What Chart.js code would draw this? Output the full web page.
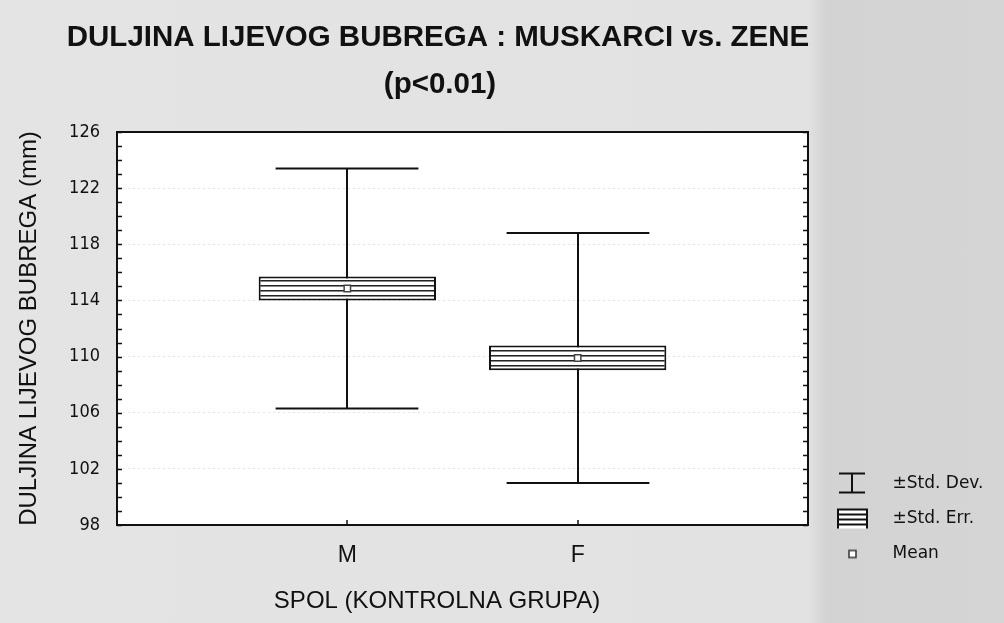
<!DOCTYPE html>
<html>
<head>
<meta charset="utf-8">
<script src="https://cdn.jsdelivr.net/npm/chart.js@4.4.1/dist/chart.umd.min.js"></script>
<style>
  html, body { margin: 0; padding: 0; }
  body {
    width: 1004px; height: 623px; overflow: hidden;
    background: linear-gradient(90deg, #e4e4e4 0px, #e2e2e2 808px, #d3d3d3 826px, #d5d5d5 1004px);
  }
  #wrap { position: relative; width: 1004px; height: 623px; }
</style>
</head>
<body>
<div id="wrap"><canvas id="chart"></canvas></div>
<script>
// podaci ocitani sa slike
const groups = ["M", "F"];
const means = [114.85, 109.9];
const stdDev = [8.55, 8.9];
const stdErr = [0.86, 0.88];
const yTicks = [98, 102, 106, 110, 114, 118, 122, 126];

const titleText = "DULJINA LIJEVOG BUBREGA : MUSKARCI vs. ZENE";
const subtitleText = "(p<0.01)";
const yTitle = "DULJINA LIJEVOG BUBREGA (mm)";
const xTitle = "SPOL (KONTROLNA GRUPA)";
const legendLabels = ["±Std. Dev.", "±Std. Err.", "Mean"];

const INK = "#111";
const SANS = "'Liberation Sans', Arial, sans-serif";
const NARROW = "'Liberation Sans Narrow', 'DejaVu Sans Condensed', 'Liberation Sans', sans-serif";
const LEGEND_FONT = { family: "'DejaVu Sans', sans-serif", size: 17 };

// prazne kategorije lijevo i desno da M i F budu na 1/3 i 2/3
const labels = ["", ...groups, ""];
const pad = arr => [null, ...arr, null];

// horizontalne pruge za +-SE kutiju
function stripePattern() {
  const c = document.createElement("canvas");
  c.width = 4; c.height = 5;
  const g = c.getContext("2d");
  g.fillStyle = "#fff"; g.fillRect(0, 0, 4, 5);
  g.fillStyle = "#222"; g.fillRect(0, 0, 4, 1);
  g.fillStyle = "#888"; g.fillRect(0, 1, 4, 1);
  return g.createPattern(c, "repeat");
}

// ikone za legendu
function legendIcon(kind) {
  const c = document.createElement("canvas");
  c.width = 40; c.height = 26;
  const g = c.getContext("2d");
  const cx = 17;
  g.strokeStyle = INK; g.fillStyle = INK;
  if (kind === "sd") {
    g.lineWidth = 2;
    g.beginPath();
    g.moveTo(cx - 13, 3); g.lineTo(cx + 13, 3);
    g.moveTo(cx, 3); g.lineTo(cx, 22);
    g.moveTo(cx - 13, 22); g.lineTo(cx + 13, 22);
    g.stroke();
  } else if (kind === "se") {
    g.fillStyle = "#fff"; g.fillRect(cx - 15, 3, 31, 20);
    g.fillStyle = INK;
    for (let yy = 3; yy <= 21; yy += 5) g.fillRect(cx - 15, yy, 31, 2);
    g.fillRect(cx - 15, 3, 2, 20); g.fillRect(cx + 14, 3, 2, 20);
  } else {
    g.fillStyle = "#fff"; g.fillRect(cx - 3, 10, 7, 7);
    g.lineWidth = 1.5; g.strokeStyle = "#333"; g.strokeRect(cx - 3, 10, 7, 7);
  }
  return c;
}
const icons = [legendIcon("sd"), legendIcon("se"), legendIcon("mean")];

// sirina legende -> desni padding da plot zavrsi na ~808px
const mctx = document.createElement("canvas").getContext("2d");
mctx.font = `${LEGEND_FONT.size}px ${LEGEND_FONT.family}`;
const legendTextW = Math.max(...legendLabels.map(t => mctx.measureText(t).width));
const legendPad = 18, legendBox = 58;
const rightPad = Math.max(0, 186 - (legendPad + legendBox + LEGEND_FONT.size / 2 + legendTextW));

const plotBackground = {
  id: "plotBackground",
  beforeDraw(chart) {
    const { ctx, chartArea: a } = chart;
    ctx.save();
    ctx.fillStyle = "#fff";
    ctx.fillRect(a.left, a.top, a.right - a.left, a.bottom - a.top);
    ctx.restore();
  },
};

// +-SD brkovi ispod kutija
const whiskers = {
  id: "whiskers",
  beforeDatasetsDraw(chart) {
    const { ctx, scales: { x, y } } = chart;
    const step = x.getPixelForValue(1) - x.getPixelForValue(0);
    const half = step * 0.31;
    ctx.save();
    ctx.strokeStyle = INK;
    ctx.lineWidth = 2;
    groups.forEach((g, i) => {
      const cx = Math.round(x.getPixelForValue(i + 1));
      const top = y.getPixelForValue(means[i] + stdDev[i]);
      const bot = y.getPixelForValue(means[i] - stdDev[i]);
      ctx.beginPath();
      ctx.moveTo(cx, top); ctx.lineTo(cx, bot);
      ctx.moveTo(cx - half, top); ctx.lineTo(cx + half, top);
      ctx.moveTo(cx - half, bot); ctx.lineTo(cx + half, bot);
      ctx.stroke();
    });
    ctx.restore();
  },
};

// okvir, sitne crtice i tekstovi naslova
const frameAndText = {
  id: "frameAndText",
  afterDraw(chart) {
    const { ctx, chartArea: a, scales: { x, y } } = chart;
    ctx.save();
    ctx.strokeStyle = INK;
    ctx.lineWidth = 2;
    ctx.strokeRect(a.left, a.top, a.right - a.left, a.bottom - a.top);
    ctx.beginPath();
    for (let v = yTicks[0]; v <= yTicks[yTicks.length - 1]; v++) {
      const py = Math.round(y.getPixelForValue(v)) + 0.5;
      ctx.moveTo(a.left, py); ctx.lineTo(a.left + 5, py);
      ctx.moveTo(a.right - 5, py); ctx.lineTo(a.right, py);
    }
    groups.forEach((g, i) => {
      const px = Math.round(x.getPixelForValue(i + 1));
      ctx.moveTo(px, a.bottom); ctx.lineTo(px, a.bottom - 5);
    });
    ctx.lineWidth = 1.5;
    ctx.stroke();

    ctx.fillStyle = INK;
    ctx.textAlign = "center";
    ctx.textBaseline = "middle";
    ctx.font = `bold 29.5px ${SANS}`;
    ctx.fillText(titleText, 438, 38);
    ctx.fillText(subtitleText, 440, 85);
    ctx.font = `24px ${SANS}`;
    ctx.fillText(xTitle, 437, 601);
    ctx.restore();
  },
};

new Chart(document.getElementById("chart"), {
  type: "bar",
  data: {
    labels,
    datasets: [
      {
        type: "line",
        label: "Mean",
        data: pad(means),
        showLine: false,
        pointStyle: "rect",
        pointRadius: 4.5,
        pointBackgroundColor: "#fff",
        pointBorderColor: "#444",
        pointBorderWidth: 1.5,
        order: 0,
      },
      {
        label: "±Std. Err.",
        data: pad(means.map((m, i) => [m - stdErr[i], m + stdErr[i]])),
        backgroundColor: stripePattern(),
        borderColor: INK,
        borderWidth: 2,
        borderSkipped: false,
        categoryPercentage: 1,
        barPercentage: 0.77,
        order: 1,
      },
    ],
  },
  options: {
    responsive: true,
    maintainAspectRatio: false,
    animation: false,
    layout: { padding: { left: 0, top: 132, right: rightPad, bottom: 43 } },
    scales: {
      x: {
        offset: false,
        grid: { display: false },
        border: { display: true, color: INK, width: 2 },
        ticks: { color: INK, padding: 9, font: { family: SANS, size: 23 } },
        afterFit: s => { s.height = 55; },
      },
      y: {
        min: 98,
        max: 126,
        ticks: { stepSize: 4, color: INK, padding: 17, font: { family: NARROW, size: 18 } },
        grid: { color: "#e4e4e4", lineWidth: 1, drawTicks: false },
        border: { display: true, color: INK, width: 2, dash: [2, 3] },
        title: {
          display: true,
          text: yTitle,
          color: INK,
          font: { family: SANS, size: 24 },
          padding: { top: 15, bottom: 0 },
        },
        afterFit: s => { s.width = 117; },
      },
    },
    plugins: {
      tooltip: { enabled: false },
      title: { display: false },
      legend: {
        position: "right",
        align: "end",
        onClick: null,
        labels: {
          usePointStyle: true,
          pointStyleWidth: legendBox,
          padding: legendPad,
          color: INK,
          font: LEGEND_FONT,
          generateLabels: () => legendLabels.map((t, i) => ({
            text: t,
            pointStyle: icons[i],
            fillStyle: "rgba(0,0,0,0)",
            strokeStyle: "rgba(0,0,0,0)",
            lineWidth: 0,
            hidden: false,
            fontColor: INK,
          })),
        },
      },
    },
  },
  plugins: [plotBackground, whiskers, frameAndText],
});
</script>
</body>
</html>
